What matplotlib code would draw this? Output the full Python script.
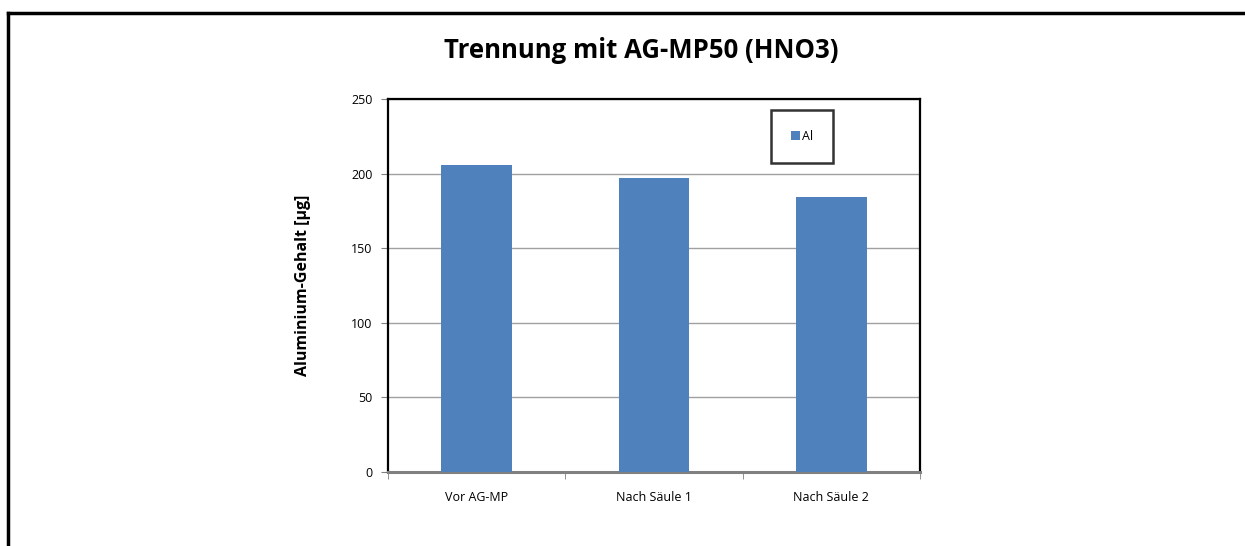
import matplotlib.pyplot as plt
from matplotlib.lines import Line2D
import numpy as np

categories = ["Vor AG-MP", "Nach Säule 1", "Nach Säule 2"]
al_values = [206, 197, 184]
y_ticks = [0, 50, 100, 150, 200, 250]

plt.rcParams['font.family'] = ['Open Sans', 'DejaVu Sans']

W, H = 1245, 546
fig = plt.figure(figsize=(W / 100, H / 100), dpi=100)
ax = fig.add_axes([388 / W, 1 - 472 / H, (920 - 388) / W, (472 - 99) / H])

x = np.arange(len(categories))
ax.bar(x, al_values, width=0.4, color="#4f81bd", label="Al", zorder=3)

ax.set_xlim(-0.5, len(categories) - 0.5)
ax.set_ylim(0, 250)
ax.set_yticks(y_ticks)
ax.set_yticklabels([str(v) for v in y_ticks], fontsize=9)
ax.yaxis.grid(True, color="#a0a0a0", linewidth=1, zorder=0)

ax.set_xticks(x)
ax.set_xticklabels(categories, fontsize=9)
ax.set_xticks(np.arange(len(categories) + 1) - 0.5, minor=True)
ax.tick_params(axis="x", which="major", length=0, pad=14)
ax.tick_params(axis="x", which="minor", length=5, color="#808080", direction="out")
ax.tick_params(axis="y", length=5, color="#808080", direction="out", pad=6)

for side in ["left", "top", "right"]:
    ax.spines[side].set_color("black")
    ax.spines[side].set_linewidth(1.6)
ax.spines["bottom"].set_color("#808080")
ax.spines["bottom"].set_linewidth(2.2)

ax.set_ylabel("Aluminium-Gehalt [µg]", fontsize=11.5, fontweight="bold", labelpad=29)

leg = ax.legend(loc="upper left", bbox_to_anchor=(0.72, 0.97), fontsize=9,
                frameon=True, fancybox=False, handlelength=0.75, handleheight=0.75,
                handletextpad=0.15, borderpad=1.6, borderaxespad=0)
leg.get_frame().set_edgecolor("black")
leg.get_frame().set_linewidth(1.8)

fig.text(641 / W, 1 - 50 / H, "Trennung mit AG-MP50 (HNO3)", fontsize=18.5,
         fontweight="bold", ha="center", va="center")

# outer chart-area frame (cropped: only top and left visible)
fig.add_artist(Line2D([8 / W, 1], [1 - 13 / H, 1 - 13 / H], color="black", linewidth=2.5,
                      transform=fig.transFigure))
fig.add_artist(Line2D([8 / W, 8 / W], [0, 1 - 13 / H], color="black", linewidth=2.5,
                      transform=fig.transFigure))

fig.savefig("out.png", dpi=100)
